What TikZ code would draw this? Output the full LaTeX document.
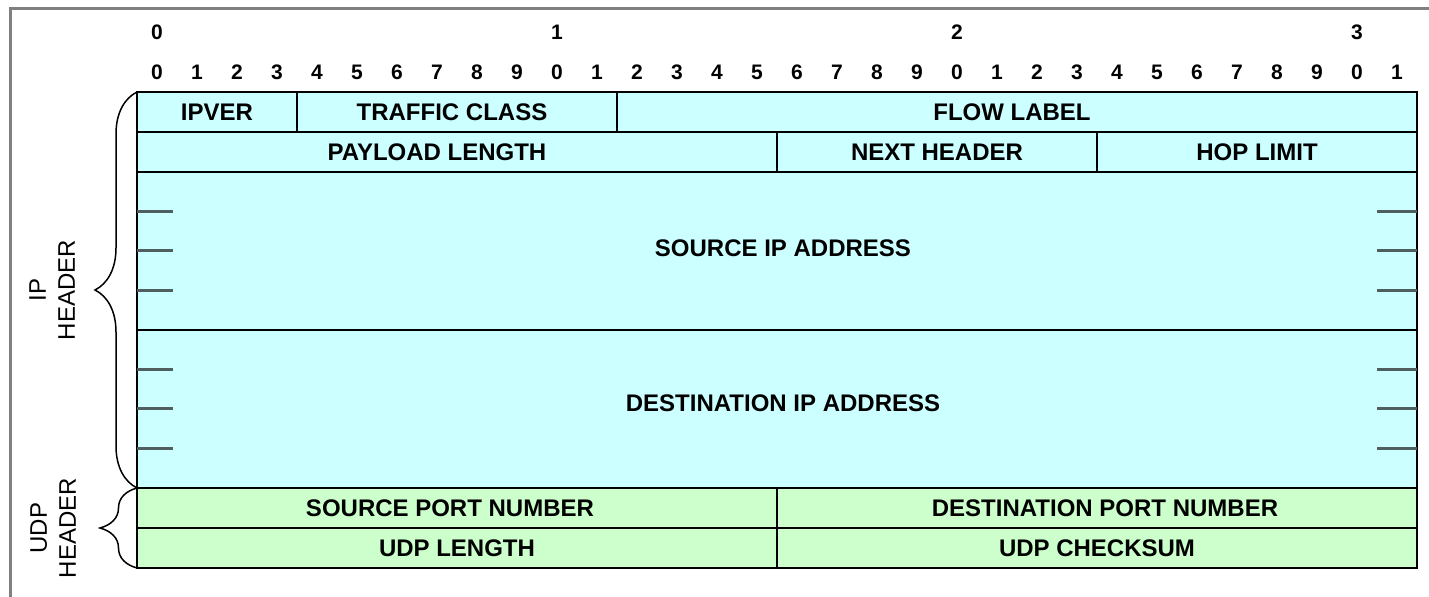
\documentclass[tikz,border=0pt]{standalone}
\usepackage{fontspec}
\setmainfont{Liberation Sans}
\usepackage{xcolor}
\usetikzlibrary{decorations.pathreplacing}
\definecolor{ipcyan}{HTML}{CCFFFF}
\definecolor{udpgreen}{HTML}{CCFFCC}
\definecolor{framegray}{HTML}{808080}
\definecolor{tickgray}{HTML}{4F5F5F}
\begin{document}
\begin{tikzpicture}[x=0.5pt,y=-0.5pt,
  fld/.style={draw=black,line width=1pt,inner sep=0pt,outer sep=0pt,
    font=\fontsize{12}{14}\selectfont\bfseries},
  ipfld/.style={fld,fill=ipcyan},
  udpfld/.style={fld,fill=udpgreen},
  bitnum/.style={font=\fontsize{10.5}{12}\selectfont\bfseries},
  sidelbl/.style={rotate=90,align=center,font=\fontsize{12}{14.5}\selectfont},
  hdrbrace/.style={decorate,decoration={brace,amplitude=#1},line width=0.75pt},
  quartick/.style={draw=tickgray,line width=1.5pt}]
  \useasboundingbox (0,0) rectangle (1429,597);
  \draw[framegray,line width=1.5pt] (10,597) -- (10,9) -- (1429,9);

  % bit numbering
  \foreach \d [count=\i from 0] in {0,1,2,3}
    \node[bitnum] (dec\i) at (157+400*\i,32) {\d};
  \foreach \b in {0,...,31}{
    \pgfmathtruncatemacro{\u}{mod(\b,10)}
    \node[bitnum] (bit\b) at (157+40*\b,72) {\u};
  }

  % IP header
  \node[ipfld,minimum width=80pt,minimum height=20pt] (ipver) at (217,112) {IPVER};
  \node[ipfld,minimum width=160pt,minimum height=20pt] (tclass) at (457,112) {TRAFFIC CLASS\hspace*{5pt}};
  \node[ipfld,minimum width=400pt,minimum height=20pt] (flow) at (1017,112) {FLOW LABEL\hspace*{5pt}};
  \node[ipfld,minimum width=320pt,minimum height=20pt] (paylen) at (457,152) {PAYLOAD LENGTH\hspace*{20pt}};
  \node[ipfld,minimum width=160pt,minimum height=20pt] (nexthdr) at (937,152) {NEXT HEADER};
  \node[ipfld,minimum width=160pt,minimum height=20pt] (hoplim) at (1257,152) {HOP LIMIT};
  \node[ipfld,minimum width=640pt,minimum height=79pt] (srcip) at (777,251) {\raisebox{2.5pt}{\hspace*{6pt}SOURCE IP ADDRESS}};
  \node[ipfld,minimum width=640pt,minimum height=79pt] (dstip) at (777,409) {\raisebox{6pt}{\hspace*{6pt}DESTINATION IP ADDRESS}};
  \foreach \y in {211.5,251,290.5,369.5,409,448.5}{
    \draw[quartick] (137,\y) -- (173,\y);
    \draw[quartick] (1377,\y) -- (1417,\y);
  }

  % UDP header
  \node[udpfld,minimum width=320pt,minimum height=20pt] (srcport) at (457,508) {SOURCE PORT NUMBER\hspace*{7pt}};
  \node[udpfld,minimum width=320pt,minimum height=20pt] (dstport) at (1097,508) {\hspace*{8pt}DESTINATION PORT NUMBER};
  \node[udpfld,minimum width=320pt,minimum height=20pt] (udplen) at (457,548) {UDP LENGTH};
  \node[udpfld,minimum width=320pt,minimum height=20pt] (udpsum) at (1097,548) {UDP CHECKSUM};

  % braces
  \draw[hdrbrace=21pt] (dstip.south west) -- (ipver.north west);
  \draw[hdrbrace=18.5pt] (udplen.south west) -- (srcport.north west);
  \node[sidelbl] (iplbl) at (52,290) {IP\\HEADER};
  \node[sidelbl] (udplbl) at (53,528) {UDP\\HEADER};
\end{tikzpicture}
\end{document}
